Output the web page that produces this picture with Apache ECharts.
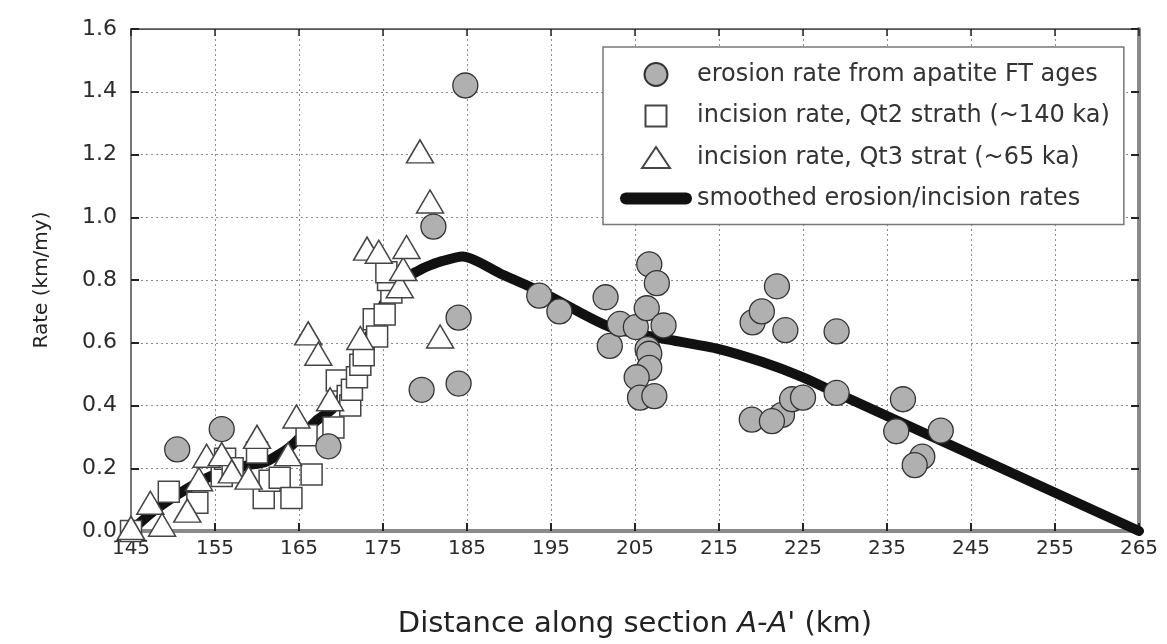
<!DOCTYPE html>
<html>
<head>
<meta charset="utf-8">
<script src="https://cdn.jsdelivr.net/npm/echarts@6/dist/echarts.min.js"></script>
<style>
html,body{margin:0;padding:0;background:#fff;}
#c{width:1167px;height:644px;}
</style>
</head>
<body>
<div id="c"></div>
<script>
// ---- data ----
const xTicks = [145,155,165,175,185,195,205,215,225,235,245,255,265];
const yTicks = [0.0,0.2,0.4,0.6,0.8,1.0,1.2,1.4,1.6];

const erosionFT = [
  [150.5,0.26],[155.8,0.325],[168.5,0.27],[179.6,0.45],[181.0,0.97],[184.0,0.68],[184.0,0.47],[184.8,1.42],
  [193.6,0.75],[196.0,0.70],[201.5,0.745],[202.0,0.59],[203.2,0.66],[205.1,0.65],[206.7,0.85],[207.6,0.79],
  [206.4,0.71],[208.4,0.655],[206.5,0.58],[206.7,0.565],[206.7,0.52],[205.2,0.49],[205.6,0.425],[207.3,0.43],
  [219.0,0.665],[220.1,0.70],[221.9,0.78],[222.9,0.64],[229.0,0.636],[218.9,0.355],[222.5,0.37],[221.3,0.35],
  [223.7,0.42],[225.0,0.425],[229.0,0.44],[236.9,0.42],[236.1,0.318],[241.4,0.32],[239.2,0.237],[238.3,0.21]
];
const incisionQt2 = [
  [145.0,0.00],[149.5,0.125],[152.9,0.09],[155.8,0.175],[156.2,0.23],[157.1,0.20],[160.0,0.25],[160.8,0.105],
  [161.5,0.16],[162.7,0.17],[164.1,0.105],[165.9,0.305],[166.5,0.18],[169.1,0.33],[169.5,0.48],[170.8,0.43],
  [171.1,0.40],[171.3,0.45],[171.9,0.49],[172.3,0.53],[172.7,0.56],[173.9,0.675],[174.3,0.62],[175.2,0.69],
  [176.0,0.76],[175.6,0.80],[175.4,0.825]
];
const incisionQt3 = [
  [145.0,0.01],[147.3,0.09],[148.7,0.02],[151.7,0.065],[153.1,0.165],[154.0,0.24],[155.8,0.245],[157.0,0.19],
  [159.0,0.17],[160.0,0.30],[163.7,0.245],[164.7,0.365],[166.1,0.63],[167.3,0.565],[168.7,0.42],[172.3,0.615],
  [173.1,0.90],[174.5,0.89],[177.0,0.78],[177.4,0.835],[177.8,0.905],[179.4,1.21],[180.6,1.05],[181.8,0.62]
];
const smoothed = [
  [145,0.0],[148,0.07],[152,0.14],[155,0.18],[159,0.21],[161,0.22],[164,0.27],[167,0.35],[169,0.39],
  [171,0.47],[173,0.60],[175,0.72],[177,0.81],[178.5,0.82],[180,0.84],[182,0.86],[184.5,0.875],[189,0.82],
  [194,0.76],[202,0.65],[209,0.61],[215,0.58],[220,0.54],[225,0.49],[229,0.44],[265,0.0]
];
const seriesNames = [
  'erosion rate from apatite FT ages',
  'incision rate, Qt2 strath (~140 ka)',
  'incision rate, Qt3 strat (~65 ka)',
  'smoothed erosion/incision rates'
];

const FONT = '"DejaVu Sans", "Liberation Sans", sans-serif';
const chart = echarts.init(document.getElementById('c'), null, {renderer:'canvas'});

// legend icons: 72x23 boxes (invisible moveTo corners keep the aspect)
const ICON_CIRCLE = 'path://M0,0M72,23M24.5,11.5A11.5,11.5 0 1 1 47.5,11.5A11.5,11.5 0 1 1 24.5,11.5Z';
const ICON_SQUARE = 'path://M0,0M72,23M25.5,1L46.5,1L46.5,22L25.5,22Z';
const ICON_TRI    = 'path://M0,0M72,23M22,22L36,1L50,22Z';
const ICON_LINE   = 'path://M0,0M72,23M6,5.5L66,5.5A6,6 0 0 1 66,17.5L6,17.5A6,6 0 0 1 6,5.5Z';

const gridLine = {show:true, lineStyle:{color:'#8a8a8a', type:[2,3], width:1}};
const option = {
  backgroundColor:'#fff',
  animation:false,
  textStyle:{fontFamily:FONT},
  grid:{left:131, right:28, top:29, bottom:111, show:true, borderColor:'#7a7a7a', borderWidth:2, backgroundColor:'transparent'},
  xAxis:[{
    type:'value', min:xTicks[0], max:xTicks[xTicks.length-1], interval:10,
    position:'bottom',
    axisLine:{show:true, onZero:false, lineStyle:{color:'#8a8a8a', width:4}},
    axisTick:{show:true, inside:true, length:8, lineStyle:{color:'#222', width:2}},
    axisLabel:{color:'#2a2a2a', fontSize:20, margin:8, fontFamily:FONT},
    splitLine:gridLine,
    name:'{n|Distance along section }{i|A-A\'}{n| (km)}',
    nameLocation:'middle', nameGap:79,
    nameTextStyle:{rich:{n:{fontSize:29, color:'#222', fontFamily:FONT}, i:{fontSize:29, color:'#222', fontStyle:'italic', fontFamily:FONT}}}
  },{
    type:'value', min:xTicks[0], max:xTicks[xTicks.length-1], interval:10, position:'top',
    axisLine:{show:true, onZero:false, lineStyle:{color:'#555', width:1}},
    axisTick:{show:true, inside:true, length:7, lineStyle:{color:'#222', width:1.5}},
    axisLabel:{show:false}, splitLine:{show:false}
  }],
  yAxis:[{
    type:'value', min:0, max:1.6, interval:0.2, position:'left',
    axisLine:{show:true, onZero:false, lineStyle:{color:'#777', width:2}},
    axisTick:{show:true, inside:true, length:8, lineStyle:{color:'#222', width:2}},
    axisLabel:{color:'#2a2a2a', fontSize:22, margin:14, fontFamily:FONT, formatter:v=>v.toFixed(1)},
    splitLine:gridLine,
    name:'Rate (km/my)', nameLocation:'middle', nameGap:79,
    nameTextStyle:{fontSize:20, color:'#222', fontFamily:FONT}
  },{
    type:'value', min:0, max:1.6, interval:0.2, position:'right',
    axisLine:{show:true, onZero:false, lineStyle:{color:'#8a8a8a', width:4}},
    axisTick:{show:true, inside:true, length:8, lineStyle:{color:'#222', width:2}},
    axisLabel:{show:false}, splitLine:{show:false}
  }],
  legend:{
    show:true, orient:'vertical', left:603, top:47,
    padding:[15,14,14,16], itemGap:16.5, itemWidth:72, itemHeight:23,
    backgroundColor:'#fff', borderColor:'#777', borderWidth:1.5,
    textStyle:{fontSize:24, lineHeight:23, color:'#333', fontFamily:FONT},
    data:[
      {name:seriesNames[0], icon:ICON_CIRCLE},
      {name:seriesNames[1], icon:ICON_SQUARE},
      {name:seriesNames[2], icon:ICON_TRI},
      {name:seriesNames[3], icon:ICON_LINE, itemStyle:{color:'#111', borderWidth:0}}
    ]
  },
  series:[
    {
      name:seriesNames[3], type:'line', data:smoothed, showSymbol:false, symbol:'none',
      smooth:0.25, z:2,
      lineStyle:{color:'#111', width:10, cap:'round', join:'round'},
      itemStyle:{color:'#111'}
    },
    {
      name:seriesNames[1], type:'scatter', data:incisionQt2, symbol:'rect', symbolSize:21, z:3,
      itemStyle:{color:'#fff', borderColor:'#444', borderWidth:1.5, opacity:1}
    },
    {
      name:seriesNames[2], type:'scatter', data:incisionQt3, symbol:'triangle', symbolSize:[27,23], z:4,
      itemStyle:{color:'#fff', borderColor:'#444', borderWidth:1.5, opacity:1}
    },
    {
      name:seriesNames[0], type:'scatter', data:erosionFT, symbol:'circle', symbolSize:25, z:5,
      itemStyle:{color:'#b0b0b0', borderColor:'#333', borderWidth:1.3, opacity:1}
    }
  ]
};
chart.setOption(option);
</script>
</body>
</html>
